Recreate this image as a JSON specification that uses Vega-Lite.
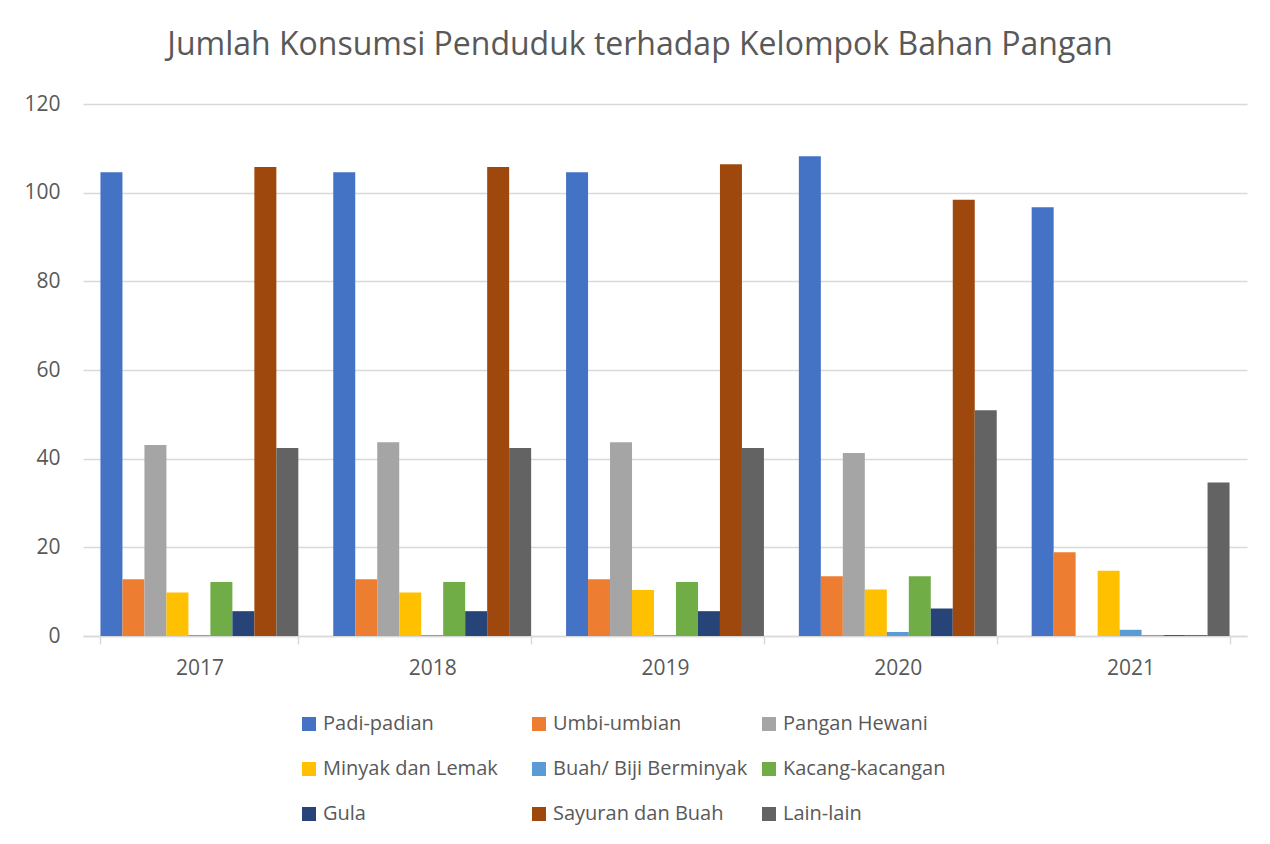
{
  "$schema": "https://vega.github.io/schema/vega-lite/v6.json",
  "width": 1164,
  "height": 532,
  "autosize": {"type": "none"},
  "padding": {"left": 83, "top": 104, "right": 23, "bottom": 208},
  "background": "white",
  "title": {
    "text": "Jumlah Konsumsi Penduduk terhadap Kelompok Bahan Pangan",
    "fontSize": 32,
    "font": "Open Sans",
    "fontWeight": "normal",
    "color": "#595959",
    "anchor": "middle",
    "dx": -25,
    "offset": 31
  },
  "config": {
    "font": "Open Sans",
    "view": {"stroke": null},
    "legend": {"padding": 0}
  },
  "data": {
    "values": [
      {"tahun": "2017", "kelompok": "Padi-padian", "nilai": 104.6},
      {"tahun": "2017", "kelompok": "Umbi-umbian", "nilai": 12.8},
      {"tahun": "2017", "kelompok": "Pangan Hewani", "nilai": 43.1},
      {"tahun": "2017", "kelompok": "Minyak dan Lemak", "nilai": 9.8},
      {"tahun": "2017", "kelompok": "Buah/ Biji Berminyak", "nilai": 0.2},
      {"tahun": "2017", "kelompok": "Kacang-kacangan", "nilai": 12.2},
      {"tahun": "2017", "kelompok": "Gula", "nilai": 5.6},
      {"tahun": "2017", "kelompok": "Sayuran dan Buah", "nilai": 105.8},
      {"tahun": "2017", "kelompok": "Lain-lain", "nilai": 42.4},
      {"tahun": "2018", "kelompok": "Padi-padian", "nilai": 104.6},
      {"tahun": "2018", "kelompok": "Umbi-umbian", "nilai": 12.8},
      {"tahun": "2018", "kelompok": "Pangan Hewani", "nilai": 43.7},
      {"tahun": "2018", "kelompok": "Minyak dan Lemak", "nilai": 9.8},
      {"tahun": "2018", "kelompok": "Buah/ Biji Berminyak", "nilai": 0.2},
      {"tahun": "2018", "kelompok": "Kacang-kacangan", "nilai": 12.2},
      {"tahun": "2018", "kelompok": "Gula", "nilai": 5.6},
      {"tahun": "2018", "kelompok": "Sayuran dan Buah", "nilai": 105.8},
      {"tahun": "2018", "kelompok": "Lain-lain", "nilai": 42.4},
      {"tahun": "2019", "kelompok": "Padi-padian", "nilai": 104.6},
      {"tahun": "2019", "kelompok": "Umbi-umbian", "nilai": 12.8},
      {"tahun": "2019", "kelompok": "Pangan Hewani", "nilai": 43.7},
      {"tahun": "2019", "kelompok": "Minyak dan Lemak", "nilai": 10.4},
      {"tahun": "2019", "kelompok": "Buah/ Biji Berminyak", "nilai": 0.2},
      {"tahun": "2019", "kelompok": "Kacang-kacangan", "nilai": 12.2},
      {"tahun": "2019", "kelompok": "Gula", "nilai": 5.6},
      {"tahun": "2019", "kelompok": "Sayuran dan Buah", "nilai": 106.4},
      {"tahun": "2019", "kelompok": "Lain-lain", "nilai": 42.4},
      {"tahun": "2020", "kelompok": "Padi-padian", "nilai": 108.2},
      {"tahun": "2020", "kelompok": "Umbi-umbian", "nilai": 13.5},
      {"tahun": "2020", "kelompok": "Pangan Hewani", "nilai": 41.3},
      {"tahun": "2020", "kelompok": "Minyak dan Lemak", "nilai": 10.5},
      {"tahun": "2020", "kelompok": "Buah/ Biji Berminyak", "nilai": 0.9},
      {"tahun": "2020", "kelompok": "Kacang-kacangan", "nilai": 13.5},
      {"tahun": "2020", "kelompok": "Gula", "nilai": 6.2},
      {"tahun": "2020", "kelompok": "Sayuran dan Buah", "nilai": 98.4},
      {"tahun": "2020", "kelompok": "Lain-lain", "nilai": 50.9},
      {"tahun": "2021", "kelompok": "Padi-padian", "nilai": 96.7},
      {"tahun": "2021", "kelompok": "Umbi-umbian", "nilai": 18.9},
      {"tahun": "2021", "kelompok": "Pangan Hewani", "nilai": 0},
      {"tahun": "2021", "kelompok": "Minyak dan Lemak", "nilai": 14.7},
      {"tahun": "2021", "kelompok": "Buah/ Biji Berminyak", "nilai": 1.4},
      {"tahun": "2021", "kelompok": "Kacang-kacangan", "nilai": 0.2},
      {"tahun": "2021", "kelompok": "Gula", "nilai": 0.2},
      {"tahun": "2021", "kelompok": "Sayuran dan Buah", "nilai": 0.2},
      {"tahun": "2021", "kelompok": "Lain-lain", "nilai": 34.6}
    ]
  },
  "mark": {"type": "bar"},
  "encoding": {
    "x": {
      "field": "tahun",
      "type": "nominal",
      "title": null,
      "scale": {"paddingInner": 0.15, "paddingOuter": 0.075},
      "axis": {
        "labelAngle": 0,
        "labelFontSize": 21,
        "labelColor": "#595959",
        "labelPadding": 13,
        "domainColor": "#D9D9D9",
        "domainWidth": 1.5,
        "tickColor": "#D9D9D9",
        "tickWidth": 1.5,
        "tickSize": 8,
        "tickBand": "extent",
        "grid": false
      }
    },
    "xOffset": {
      "field": "kelompok",
      "type": "nominal",
      "sort": ["Padi-padian", "Umbi-umbian", "Pangan Hewani", "Minyak dan Lemak", "Buah/ Biji Berminyak", "Kacang-kacangan", "Gula", "Sayuran dan Buah", "Lain-lain"],
      "scale": {"paddingInner": 0, "paddingOuter": 0}
    },
    "y": {
      "field": "nilai",
      "type": "quantitative",
      "title": null,
      "scale": {"domain": [0, 120], "nice": false},
      "axis": {
        "values": [0, 20, 40, 60, 80, 100, 120],
        "domain": false,
        "ticks": false,
        "labelFontSize": 21,
        "labelColor": "#595959",
        "labelPadding": 23,
        "gridColor": "#D9D9D9",
        "gridWidth": 1.5
      }
    },
    "color": {
      "field": "kelompok",
      "type": "nominal",
      "title": null,
      "scale": {
        "domain": ["Padi-padian", "Umbi-umbian", "Pangan Hewani", "Minyak dan Lemak", "Buah/ Biji Berminyak", "Kacang-kacangan", "Gula", "Sayuran dan Buah", "Lain-lain"],
        "range": ["#4472C4", "#ED7D31", "#A5A5A5", "#FFC000", "#5B9BD5", "#70AD47", "#264478", "#9E480E", "#636363"]
      },
      "legend": {
        "orient": "none",
        "legendX": 216,
        "legendY": 610,
        "direction": "horizontal",
        "columns": 3,
        "gridAlign": "all",
        "columnPadding": 11,
        "rowPadding": 25,
        "symbolType": "square",
        "symbolSize": 196,
        "symbolStrokeWidth": 0,
        "symbolOpacity": 1,
        "labelFontSize": 20,
        "labelColor": "#595959",
        "labelOffset": 4,
        "labelLimit": 400
      }
    }
  }
}
